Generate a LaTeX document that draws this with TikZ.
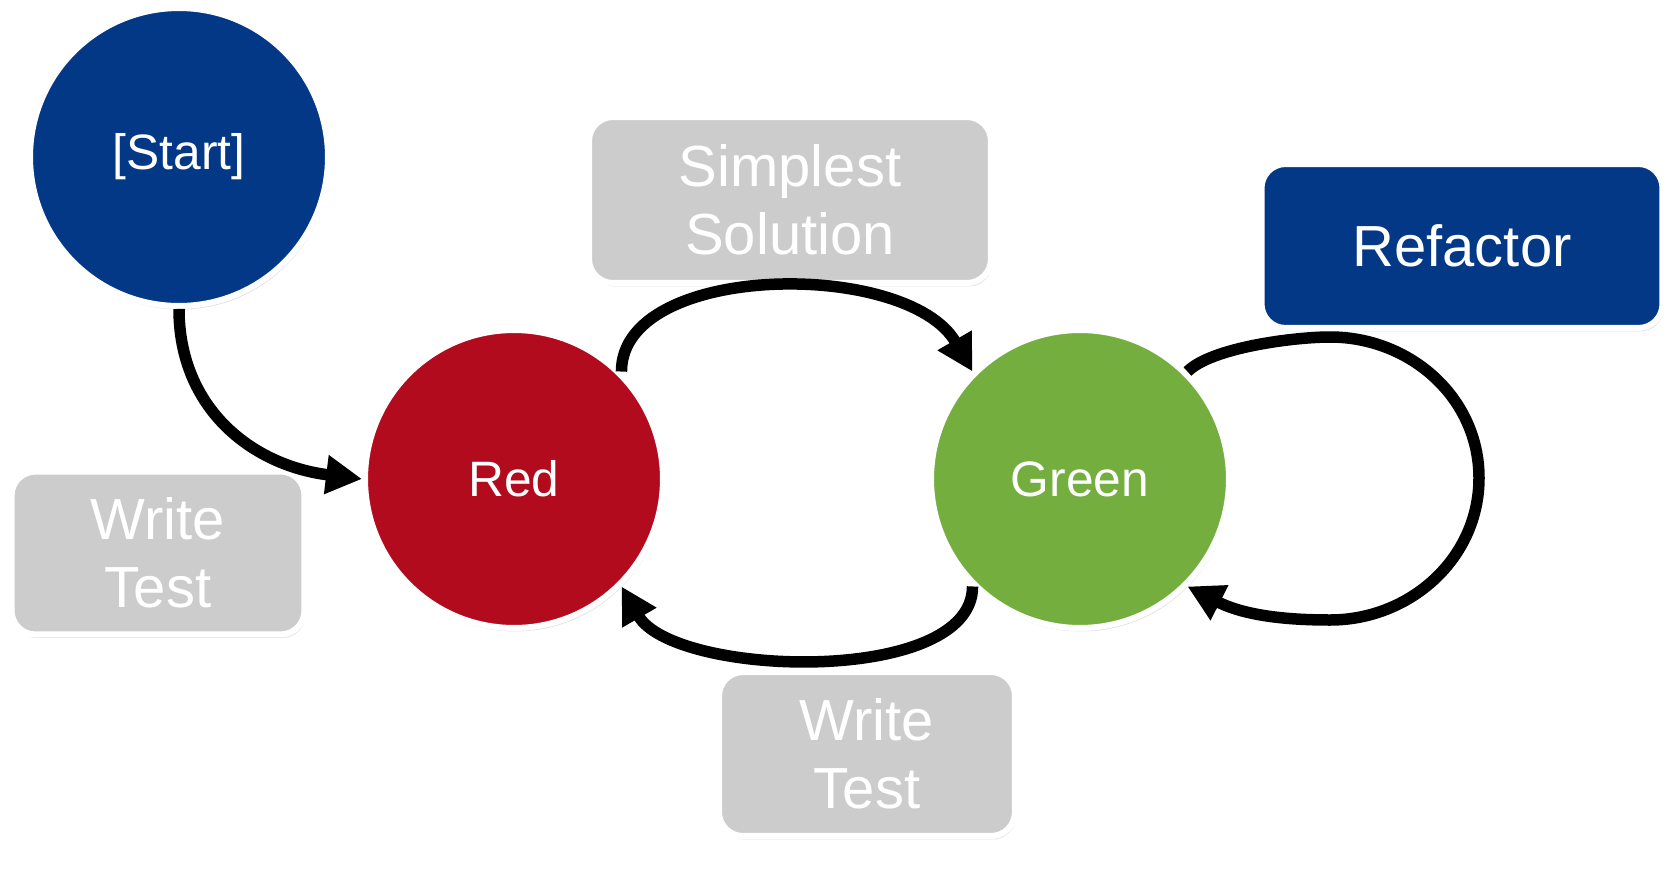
\documentclass[tikz,border=0pt]{standalone}
\usepackage{fontspec}
\setmainfont{Liberation Sans}
\usetikzlibrary{arrows.meta,shadows}

\definecolor{tddblue}{RGB}{3,56,135}
\definecolor{tddred}{RGB}{178,11,29}
\definecolor{tddgreen}{RGB}{115,174,62}
\definecolor{tddgray}{RGB}{204,204,204}

\tikzset{
  softshadow/.style={drop shadow={opacity=0.25,shadow xshift=0.03cm,shadow yshift=-0.07cm}},
  stage/.style={circle,draw=white,line width=0.12cm,minimum size=5.96cm,text=white,
    font=\fontsize{28.3}{34}\selectfont,softshadow},
  task/.style={rectangle,rounded corners=0.48cm,draw=white,line width=0.12cm,text=white,
    align=center,font=\fontsize{33}{38.7}\selectfont,softshadow},
  arr/.style={line width=0.23cm,-{Triangle[length=0.72cm,width=0.74cm]}}
}

\begin{document}
\begin{tikzpicture}[x=0.02cm,y=0.02cm]
  \useasboundingbox (0,0) rectangle (1674,-869);

  \node[stage,fill=tddblue] (start) at (179,-157) {[Start]};
  \node[stage,fill=tddred] (red) at (514,-479) {Red};
  \node[stage,fill=tddgreen] (green) at (1080,-479) {Green};

  \node[task,fill=tddgray,minimum width=8.04cm,minimum height=3.32cm] (solve) at (790,-200) {Simplest\\Solution};
  \node[task,fill=tddblue,minimum width=8.02cm,minimum height=3.28cm] (refactor) at (1462,-246) {Refactor};
  \node[task,fill=tddgray,minimum width=5.86cm,minimum height=3.26cm] (firsttest) at (158,-553) {Write\\Test};
  \node[task,fill=tddgray,minimum width=5.92cm,minimum height=3.28cm] (nexttest) at (867,-754) {Write\\Test};

  \coordinate (looptop) at (1330,-337);
  \coordinate (loopR) at (1479,-478);
  \coordinate (loopbot) at (1330,-620);

  \draw[arr] (start.south) .. controls +(-90:100) and +(173:110) .. (red.west);
  \draw[arr] (red.45) .. controls +(90:110) and +(120:130) .. (green.135);
  \draw[arr] (green.225) .. controls +(-90:100) and +(-60:105) .. (red.315);
  \draw[arr] (green.45) to[out=45,in=180,looseness=0.6] (looptop)
    to[out=0,in=90] (loopR) to[out=-90,in=0] (loopbot)
    to[out=180,in=-27] (green.315);
\end{tikzpicture}
\end{document}
